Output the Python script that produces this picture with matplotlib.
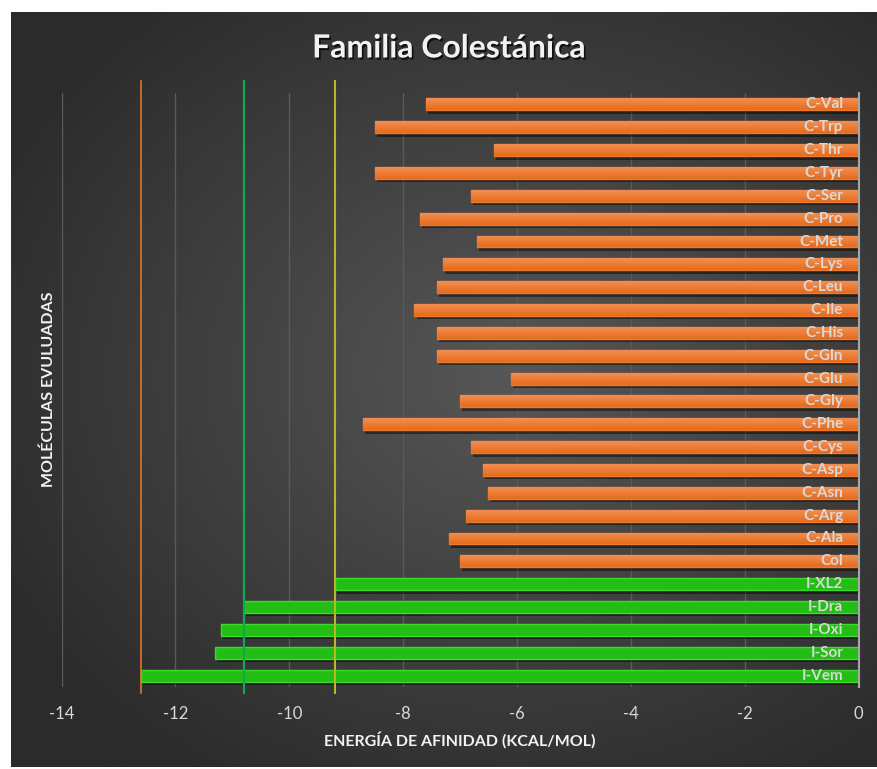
import numpy as np
import matplotlib
matplotlib.use("Agg")
import matplotlib.pyplot as plt
from matplotlib import patheffects as pe
from matplotlib.colors import LinearSegmentedColormap
import matplotlib.transforms as mtransforms

plt.rcParams['font.family'] = ['Lato', 'DejaVu Sans']
plt.rcParams['axes.unicode_minus'] = False

# ---- data (bottom to top) ----
molecules = ["I-Vem", "I-Sor", "I-Oxi", "I-Dra", "I-XL2", "Col", "C-Ala", "C-Arg",
             "C-Asn", "C-Asp", "C-Cys", "C-Phe", "C-Gly", "C-Glu", "C-Gln", "C-His",
             "C-Ile", "C-Leu", "C-Lys", "C-Met", "C-Pro", "C-Ser", "C-Tyr", "C-Thr",
             "C-Trp", "C-Val"]
energies = [-12.6, -11.3, -11.2, -10.8, -9.2, -7.0, -7.2, -6.9,
            -6.5, -6.6, -6.8, -8.7, -7.0, -6.1, -7.4, -7.4,
            -7.8, -7.4, -7.3, -6.7, -7.7, -6.8, -8.5, -6.4,
            -8.5, -7.6]
groups = ["I"] * 5 + ["C"] * 21
ref_values = [-12.6, -10.8, -9.2]
ref_colors = ["#F07A2A", "#12A84F", "#BDB524"]
ref_widths = [1.1, 1.6, 1.5]
xticks = [-14, -12, -10, -8, -6, -4, -2, 0]

W, H = 877, 769
fig = plt.figure(figsize=(W / 100, H / 100), dpi=100)
fig.patch.set_facecolor("white")

# background panel with radial gradient
bl, bb = 11 / W, 1 - 767 / H
bw, bh = 1 - bl, (767 - 12) / H
bg = fig.add_axes([bl, bb, bw, bh], zorder=-10)
bg.axis("off")
yy, xx = np.mgrid[0:1:300j, 0:1:300j]
d = np.sqrt(((xx - 0.58) / 0.9) ** 2 + ((yy - 0.52) / 0.85) ** 2)
d = np.clip(d / 0.75, 0, 1)
cmap_bg = LinearSegmentedColormap.from_list("bg", ["#575757", "#2b2b2b"])
bg.imshow(d, cmap=cmap_bg, extent=[0, 1, 0, 1], origin="lower", aspect="auto", vmin=0, vmax=1)
bg.set_xlim(0, 1)
bg.set_ylim(0, 1)

# main axes
left, right = 61.5 / W, 858.5 / W
top, bottom = 1 - 93 / H, 1 - 687 / H
ax = fig.add_axes([left, bottom, right - left, top - bottom])
ax.set_facecolor("none")

ypos = np.arange(len(molecules))
bar_h = 0.52
orange = "#EE7A2E"
green = "#23BE15"
colors = [green if g == "I" else orange for g in groups]
edges = ["#3FD82F" if g == "I" else orange for g in groups]
bars = ax.barh(ypos, energies, height=bar_h, color=colors, edgecolor=edges,
               linewidth=1.0, zorder=3)
shadow = [pe.SimplePatchShadow(offset=(1.5, -2.5), shadow_rgbFace="black", alpha=0.45),
          pe.Normal()]
grad_or = LinearSegmentedColormap.from_list("or", ["#E56C1C", "#F28E52"])
for b, g in zip(bars, groups):
    b.set_path_effects(shadow)
    if g == "C":
        x0, y0, w, h = b.get_x(), b.get_y(), b.get_width(), b.get_height()
        grad = np.linspace(0, 1, 50).reshape(-1, 1)
        im = ax.imshow(grad, cmap=grad_or, extent=[x0 + w, x0, y0, y0 + h],
                       origin="lower", aspect="auto", zorder=3.5, interpolation="bilinear")
        im.set_clip_path(b)

for yv, name in zip(ypos, molecules):
    ax.annotate(name, xy=(0, yv), xytext=(-11, 0), textcoords="offset points",
                ha="right", va="center", fontsize=11, fontweight="bold",
                color="#D9D9D9", zorder=5)

ax.set_xlim(-14, 0)
ax.set_ylim(-0.5, len(molecules) - 0.5)
ax.set_xticks(xticks)
ax.set_xticklabels([str(t) for t in xticks])
ax.set_yticks([])
ax.tick_params(axis="x", length=0, pad=14, labelsize=12, colors="#D9D9D9")
for t in xticks[:-1]:
    ax.axvline(t, color="#5A5A5A", lw=1.0, zorder=1)
for s in ["top", "left", "bottom"]:
    ax.spines[s].set_visible(False)
ax.spines["right"].set_color("#A6A6A6")
ax.spines["right"].set_linewidth(1.5)
ax.spines["right"].set_zorder(4)

trans = mtransforms.blended_transform_factory(ax.transData, ax.transAxes)
for v, c, lw in zip(ref_values, ref_colors, ref_widths):
    ax.plot([v, v], [-0.01, 1.02], transform=trans, color=c, lw=lw,
            clip_on=False, zorder=4)

title_fx = [pe.SimplePatchShadow(offset=(1.2, -1.5), shadow_rgbFace="black", alpha=0.7),
            pe.Normal()]
fig.text(449 / W, 1 - 48 / H, "Familia Colestánica", ha="center", va="center",
         fontsize=23, fontweight="bold", color="#F2F2F2", path_effects=title_fx)
fig.text(460 / W, 1 - 740 / H, "ENERGÍA DE AFINIDAD (KCAL/MOL)", ha="center",
         va="center", fontsize=11.5, fontweight="bold", color="#F2F2F2")
fig.text(49 / W, 1 - 389 / H, "MOLÉCULAS EVULUADAS", ha="center", va="center",
         rotation=90, fontsize=11.5, fontweight="bold", color="#F2F2F2")

fig.savefig("out.png", dpi=100, facecolor=fig.get_facecolor())
